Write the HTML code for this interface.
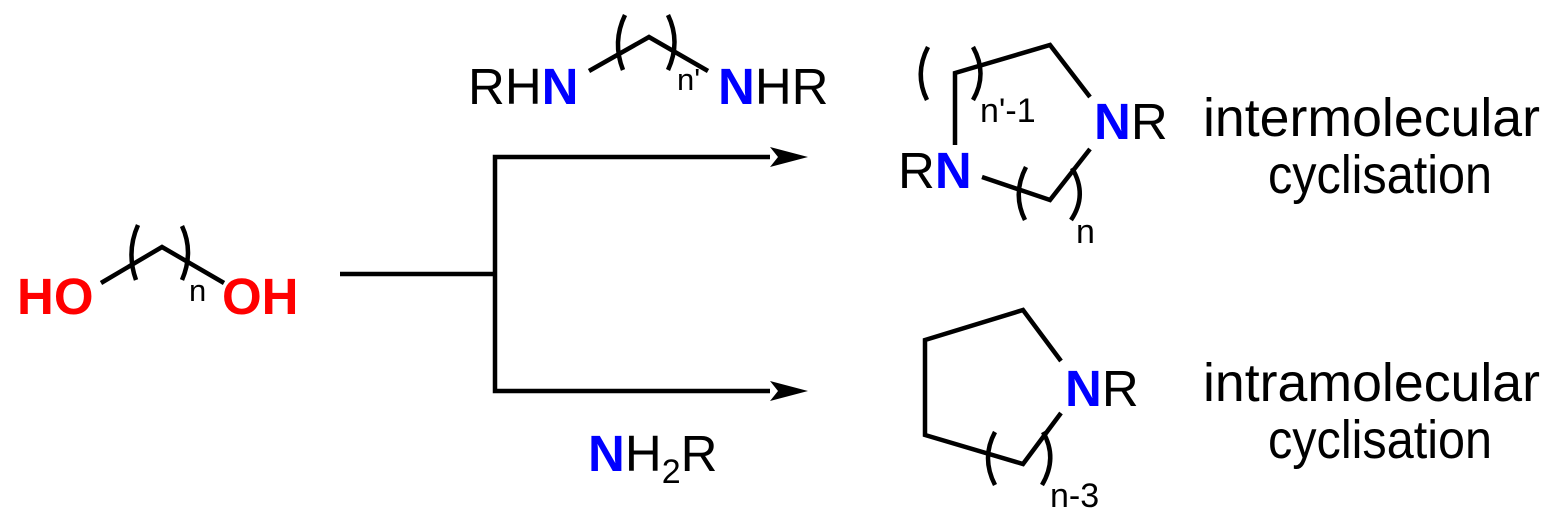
<!DOCTYPE html>
<html><head><meta charset="utf-8"><style>html,body{margin:0;padding:0;background:#fff}svg{display:block}</style></head>
<body>
<svg width="1555" height="524" viewBox="0 0 1555 524" xmlns="http://www.w3.org/2000/svg" font-family="Liberation Sans, Arial, sans-serif">
<g stroke="#000" stroke-width="4.5" fill="none" stroke-linecap="butt" stroke-linejoin="miter">
<polyline points="101,283 162,247 224,283"/>
<path d="M138,225 Q126,252 136,280"/>
<path d="M182,226 Q194,252 182,280"/>
<line x1="340" y1="274" x2="495" y2="274"/>
<polyline points="770,157 495,157 495,391 770,391"/>
<polyline points="589,71 649,37 708,71"/>
<path d="M625,15 Q612,42 623,70"/>
<path d="M668,15 Q681,42 668,70"/>
<polyline points="955,145 955,73 1050,45 1090,97"/>
<polyline points="1090,149 1050,200 982,177"/>
<path d="M928,47 Q914,74 927,100"/>
<path d="M973,47 Q988,74 973,100"/>
<path d="M1026,167 Q1012,194 1025,220"/>
<path d="M1072,168 Q1088,195 1071,220"/>
<polyline points="1061,361 1023,310 925,340 925,435 1023,464 1061,413"/>
<path d="M995,432 Q981,458 995,485"/>
<path d="M1043,432 Q1058,458 1042,485"/>
</g>
<polygon points="808,157 770,147 778,157 770,167" fill="#000"/>
<polygon points="808,391 770,381 778,391 770,401" fill="#000"/>
<g font-size="51">
<text x="17" y="314" fill="#f00" font-weight="bold">HO</text>
<text x="222" y="314" fill="#f00" font-weight="bold">OH</text>
<text x="468" y="104" fill="#000">RH<tspan fill="#00f" font-weight="bold">N</tspan></text>
<text x="718" y="104" fill="#000"><tspan fill="#00f" font-weight="bold">N</tspan>HR</text>
<text x="588" y="471" fill="#000"><tspan fill="#00f" font-weight="bold">N</tspan>H<tspan font-size="34" dy="12">2</tspan><tspan dy="-12">R</tspan></text>
<text x="898" y="188" fill="#000">R<tspan fill="#00f" font-weight="bold">N</tspan></text>
<text x="1094" y="139" fill="#000"><tspan fill="#00f" font-weight="bold">N</tspan>R</text>
<text x="1065" y="406" fill="#000"><tspan fill="#00f" font-weight="bold">N</tspan>R</text>
</g>
<g font-size="34" fill="#000">
<text x="189" y="301" font-size="31">n</text>
<text x="677" y="90" font-size="31">n'</text>
<text x="980" y="122">n'-1</text>
<text x="1076" y="243">n</text>
<text x="1050" y="507">n-3</text>
</g>
<g font-size="54" fill="#000">
<text x="1203" y="136" textLength="337" lengthAdjust="spacingAndGlyphs">intermolecular</text>
<text x="1268" y="193" textLength="224" lengthAdjust="spacingAndGlyphs">cyclisation</text>
<text x="1203" y="401" textLength="337" lengthAdjust="spacingAndGlyphs">intramolecular</text>
<text x="1268" y="458" textLength="224" lengthAdjust="spacingAndGlyphs">cyclisation</text>
</g>
</svg>
</body></html>
